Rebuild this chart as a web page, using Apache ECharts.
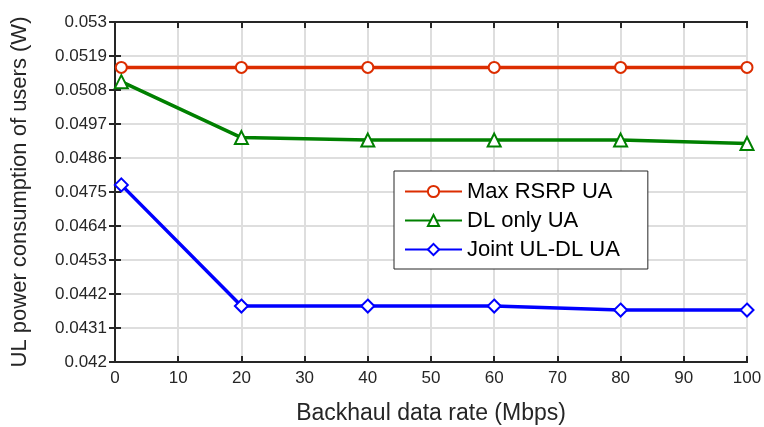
<!DOCTYPE html>
<html>
<head>
<meta charset="utf-8">
<script src="https://cdn.jsdelivr.net/npm/echarts@6/dist/echarts.min.js"></script>
<style>
  html, body { margin: 0; padding: 0; background: #fff; }
  #chart { width: 764px; height: 427px; }
</style>
</head>
<body>
<div id="chart"></div>
<script>
// Backhaul data rate (Mbps)
const rates = [1, 20, 40, 60, 80, 100];
// UL power consumption of users (W) per association scheme
const maxRsrp = [0.05153, 0.05153, 0.05153, 0.05153, 0.05153, 0.05153];
const dlOnly = [0.05107, 0.04926, 0.04918, 0.04918, 0.04918, 0.04907];
const jointUlDl = [0.04773, 0.04381, 0.04381, 0.04381, 0.04368, 0.04368];
const seriesNames = ['Max RSRP UA', 'DL only UA', 'Joint UL-DL UA'];

const yMin = 0.042, yMax = 0.053, yStep = 0.0011;
const xMin = 0, xMax = 100, xStep = 10;

const font = 'Liberation Sans, Arial, sans-serif';
const axisColor = '#262626';

function pairs(vals) { return rates.map((r, i) => [r, vals[i]]); }

function mkSeries(name, vals, color, symbol, size) {
  return {
    name, type: 'line', data: pairs(vals),
    symbol, symbolSize: size,
    lineStyle: { color, width: 3.5 },
    itemStyle: { color, borderWidth: 3 },
    emphasis: { disabled: true },
    z: 5
  };
}

const chart = echarts.init(document.getElementById('chart'));
chart.setOption({
  animation: false,
  backgroundColor: '#fff',
  grid: {
    left: 115, right: 17, top: 22, bottom: 65,
    outerBoundsMode: 'none', containLabel: false,
    show: true, borderColor: axisColor, borderWidth: 2
  },
  legend: {
    orient: 'vertical', left: 394, top: 171,
    padding: [8, 28, 7, 10],
    itemGap: 4, itemWidth: 57, itemHeight: 14,
    backgroundColor: '#fff', borderColor: axisColor, borderWidth: 1,
    textStyle: { fontFamily: font, fontSize: 22, color: '#000', lineHeight: 25 },
    data: seriesNames
  },
  xAxis: [{
    type: 'value', min: xMin, max: xMax, interval: xStep,
    name: 'Backhaul data rate (Mbps)', nameLocation: 'middle', nameGap: 40,
    nameTextStyle: { fontFamily: font, fontSize: 23, color: axisColor },
    axisLine: { lineStyle: { color: axisColor, width: 2 } },
    axisTick: { inside: true, length: 6, lineStyle: { color: axisColor, width: 2 } },
    axisLabel: { fontFamily: font, fontSize: 17, color: axisColor, margin: 8 },
    splitLine: { show: true, lineStyle: { color: '#dedede', width: 2 } }
  }, {
    type: 'value', position: 'top', min: xMin, max: xMax, interval: xStep,
    axisLine: { show: true, lineStyle: { color: axisColor, width: 2 } },
    axisTick: { inside: true, length: 6, lineStyle: { color: axisColor, width: 2 } },
    axisLabel: { show: false }, splitLine: { show: false }
  }],
  yAxis: [{
    type: 'value', min: yMin, max: yMax, interval: yStep,
    name: 'UL power consumption of users (W)', nameLocation: 'middle', nameGap: 84,
    nameTextStyle: { fontFamily: font, fontSize: 22, color: axisColor },
    axisLine: { show: true, lineStyle: { color: axisColor, width: 2 } },
    axisTick: { show: true, inside: true, length: 6, lineStyle: { color: axisColor, width: 2 } },
    axisLabel: {
      fontFamily: font, fontSize: 17, color: axisColor, margin: 8,
      formatter: v => String(parseFloat(v.toFixed(4)))
    },
    splitLine: { show: true, lineStyle: { color: '#dedede', width: 2 } }
  }, {
    type: 'value', position: 'right', min: yMin, max: yMax, interval: yStep,
    axisLine: { show: true, lineStyle: { color: axisColor, width: 2 } },
    axisTick: { show: true, inside: true, length: 6, lineStyle: { color: axisColor, width: 2 } },
    axisLabel: { show: false }, splitLine: { show: false }
  }],
  series: [
    mkSeries(seriesNames[0], maxRsrp, '#dc2d00', 'emptyCircle', 11),
    mkSeries(seriesNames[1], dlOnly, '#008000', 'emptyTriangle', 13),
    mkSeries(seriesNames[2], jointUlDl, '#0000ff', 'emptyDiamond', 13)
  ]
});
</script>
</body>
</html>
